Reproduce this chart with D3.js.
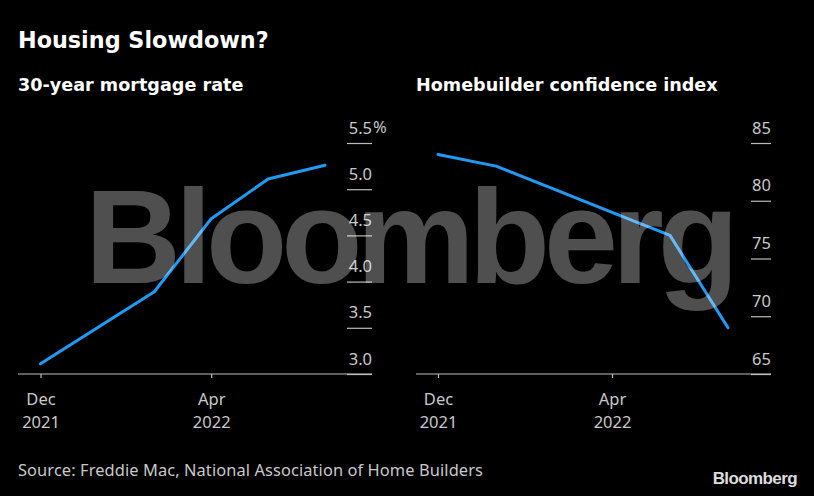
<!DOCTYPE html>
<html>
<head>
<meta charset="utf-8">
<script src="https://cdn.jsdelivr.net/npm/d3@7"></script>
<style>
  html, body { margin: 0; padding: 0; background: #000; }
  svg { display: block; }
</style>
</head>
<body>
<svg id="chart" width="814" height="496"></svg>
<script>
// ---- data ----
const title = "Housing Slowdown?";
const leftTitle = "30-year mortgage rate";
const rightTitle = "Homebuilder confidence index";
const source = "Source: Freddie Mac, National Association of Home Builders";
// six monthly observations (index positions on the x axis)
const periods = [0, 1, 2, 3, 4, 5];
const mortgageRate = [3.11, 3.50, 3.89, 4.68, 5.11, 5.26];
const builderIndex = [84, 83, 81, 79, 77, 69];
const xTickIdx = [0, 3];
const xTickLabels = [["Dec", "2021"], ["Apr", "2022"]];
const leftTicks = [3.0, 3.5, 4.0, 4.5, 5.0, 5.5];
const rightTicks = [65, 70, 75, 80, 85];

// ---- drawing ----
const svg = d3.select("#chart");
const W = 814, H = 496;
svg.append("rect").attr("width", W).attr("height", H).attr("fill", "#000");

const titleFont = "'DejaVu Sans', Verdana, sans-serif";
const labelFont = "'Noto Sans', 'DejaVu Sans', sans-serif";
const labelColor = "#c9c9c9";
const lineColor = "#1f9bf5";

svg.append("text").attr("x", 18).attr("y", 48)
  .attr("font-family", titleFont).attr("font-weight", "bold").attr("font-size", 22.3)
  .attr("fill", "#fff").text(title);

function panel(opts) {
  const g = svg.append("g");
  g.append("text").attr("x", opts.titleX).attr("y", 91)
    .attr("font-family", titleFont).attr("font-weight", "bold").attr("font-size", 17.6)
    .attr("fill", "#fff").text(opts.title);

  const x = d3.scaleLinear().domain([0, 5]).range(opts.xRange);
  const y = d3.scaleLinear().domain(opts.yDomain).range([374, 143]);

  // baseline
  g.append("line").attr("x1", opts.baseX[0]).attr("x2", opts.baseX[1])
    .attr("y1", y(opts.yDomain[0])).attr("y2", y(opts.yDomain[0]))
    .attr("stroke", "#bdbdbd").attr("stroke-width", 1.2);

  // y axis (short tick lines with labels sitting above)
  const ya = g.append("g").attr("transform", `translate(${opts.axisX},0)`)
    .call(d3.axisLeft(y).tickValues(opts.yTicks).tickSize(opts.tickLen).tickFormat(opts.fmt));
  ya.select(".domain").remove();
  ya.selectAll(".tick line").attr("stroke", "#bdbdbd").attr("stroke-width", 1.2);
  ya.selectAll(".tick text")
    .attr("x", 0).attr("dy", 0).attr("y", -10)
    .attr("text-anchor", "end")
    .attr("font-family", labelFont).attr("font-size", 16.5)
    .attr("fill", labelColor);
  if (opts.unit) {
    const top = opts.yTicks[opts.yTicks.length - 1];
    g.append("text").attr("x", opts.axisX + 1).attr("y", y(top) - 10)
      .attr("font-family", labelFont).attr("font-size", 16.5)
      .attr("fill", labelColor).text(opts.unit);
  }

  // x axis
  const xa = g.append("g").attr("transform", `translate(0,${y(opts.yDomain[0])})`)
    .call(d3.axisBottom(x).tickValues(xTickIdx).tickSize(4).tickFormat(""));
  xa.select(".domain").remove();
  xa.selectAll(".tick line").attr("stroke", "#bdbdbd").attr("stroke-width", 1.2);
  xa.selectAll(".tick").each(function(d, i) {
    const t = d3.select(this).append("text")
      .attr("text-anchor", "middle")
      .attr("font-family", labelFont).attr("font-size", 16.5)
      .attr("fill", labelColor);
    t.append("tspan").attr("x", 0).attr("y", 31).text(xTickLabels[i][0]);
    t.append("tspan").attr("x", 0).attr("y", 54).text(xTickLabels[i][1]);
  });

  // series line
  const line = d3.line().x((d, i) => x(periods[i])).y(d => y(d));
  g.append("path").datum(opts.values)
    .attr("d", line).attr("fill", "none")
    .attr("stroke", lineColor).attr("stroke-width", 3)
    .attr("stroke-linejoin", "round").attr("stroke-linecap", "round");
}

panel({
  title: leftTitle, titleX: 18,
  xRange: [40.5, 325], baseX: [18, 372],
  yDomain: [3.0, 5.5], yTicks: leftTicks, axisX: 372, tickLen: 25,
  fmt: d3.format(".1f"), unit: "%", values: mortgageRate
});
panel({
  title: rightTitle, titleX: 416,
  xRange: [438, 728], baseX: [416, 771],
  yDomain: [65, 85], yTicks: rightTicks, axisX: 771, tickLen: 20,
  fmt: d3.format("d"), unit: null, values: builderIndex
});

// source + logo
svg.append("text").attr("x", 18).attr("y", 476)
  .attr("font-family", labelFont).attr("font-size", 16.4)
  .attr("letter-spacing", 0.1)
  .attr("fill", labelColor).text(source);
svg.append("text").attr("x", 797).attr("y", 484).attr("text-anchor", "end")
  .attr("font-family", "'Liberation Sans', Arial, sans-serif").attr("font-weight", "bold")
  .attr("font-size", 17).attr("letter-spacing", -0.6)
  .attr("fill", "#dcdcdc").text("Bloomberg");

// watermark (semi-transparent, on top)
svg.append("text").attr("x", 85).attr("y", 283)
  .attr("font-family", "'Liberation Sans', Arial, sans-serif").attr("font-weight", "bold")
  .attr("font-size", 133).attr("letter-spacing", -6)
  .attr("fill", "#fff").attr("fill-opacity", 0.31).text("Bloomberg");
</script>
</body>
</html>
